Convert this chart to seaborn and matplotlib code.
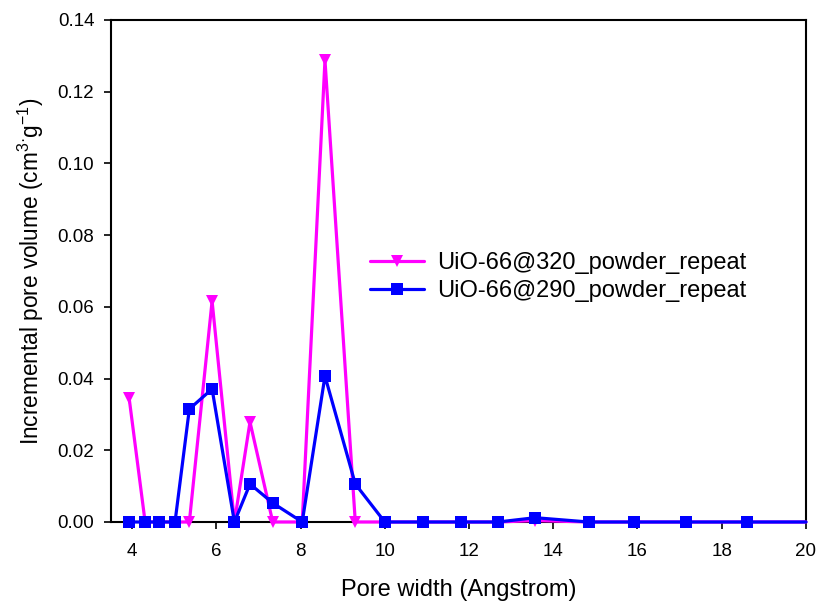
import matplotlib
matplotlib.use("Agg")
import matplotlib.pyplot as plt
import seaborn as sns
import pandas as pd

pore_width = [3.93, 4.31, 4.65, 5.02, 5.36, 5.90, 6.43, 6.80, 7.34, 8.04, 8.58,
              9.30, 10.00, 10.90, 11.80, 12.69, 13.57, 14.84, 15.91, 17.15, 18.60, 20.0]
vol_320 = [0.0346, 0.0, 0.0, 0.0, 0.0, 0.0616, 0.0, 0.0279, 0.0, 0.0, 0.1288,
           0.0, 0.0, 0.0, 0.0, 0.0, 0.0004, 0.0, 0.0, 0.0, 0.0, 0.0]
vol_290 = [0.0, 0.0, 0.0, 0.0, 0.0315, 0.0371, 0.0, 0.0106, 0.0053, 0.0, 0.0407,
           0.0106, 0.0, 0.0, 0.0, 0.0, 0.0012, 0.0, 0.0, 0.0, 0.0, 0.0]
series_names = ["UiO-66@320_powder_repeat", "UiO-66@290_powder_repeat"]

sns.set_style("ticks", {"axes.edgecolor": "black", "text.color": "black",
                        "xtick.color": "black", "ytick.color": "black",
                        "axes.labelcolor": "black"})
plt.rcParams['font.family'] = ['Liberation Sans', 'DejaVu Sans']
plt.rcParams['mathtext.fontset'] = 'custom'
plt.rcParams['mathtext.rm'] = 'Liberation Sans'
plt.rcParams['mathtext.it'] = 'Liberation Sans'
plt.rcParams['mathtext.default'] = 'regular'

df = pd.concat([
    pd.DataFrame({"x": pore_width, "y": vol_320, "s": series_names[0]}),
    pd.DataFrame({"x": pore_width, "y": vol_290, "s": series_names[1]}),
])

fig = plt.figure(figsize=(8.18, 6.02), dpi=100)
ax = fig.add_axes([0.1357, 0.1329, 0.8496, 0.8339])

n = len(pore_width)
sns.lineplot(data=df, x="x", y="y", hue="s", style="s",
             palette=["#ff00ff", "#0000ff"], markers=["v", "s"], dashes=False,
             markersize=9, linewidth=2.3, markeredgewidth=0, ax=ax, sort=False,
             markevery=list(range(n - 1)), clip_on=False)

ax.set_xlim(3.5, 20)
ax.set_ylim(0, 0.14)
ax.set_xticks(range(4, 21, 2))
ax.set_yticks([0, 0.02, 0.04, 0.06, 0.08, 0.10, 0.12, 0.14])
ax.set_yticklabels([f"{v:.2f}" for v in ax.get_yticks()])
ax.tick_params(labelsize=13.5, direction="out", length=5, width=1.2, pad=7,
               colors="black")
ax.tick_params(axis="x", pad=10)
for sp in ax.spines.values():
    sp.set_linewidth(1.5)
    sp.set_color("black")
    sp.set_visible(True)
    sp.set_zorder(1)

ax.set_xlabel("Pore width (Angstrom)", fontsize=17, labelpad=14, color="black")
ax.set_ylabel("Incremental pore volume (cm$^{3\u00b7}$g$^{-1}$)", fontsize=16.3,
              labelpad=8, color="black")

leg = ax.legend(frameon=False, fontsize=17, loc="center left",
                bbox_to_anchor=(0.342, 0.488), handlelength=2.3,
                handletextpad=0.55, labelspacing=0.25)
for t in leg.get_texts():
    t.set_color("black")

fig.savefig("out.png", dpi=100)
